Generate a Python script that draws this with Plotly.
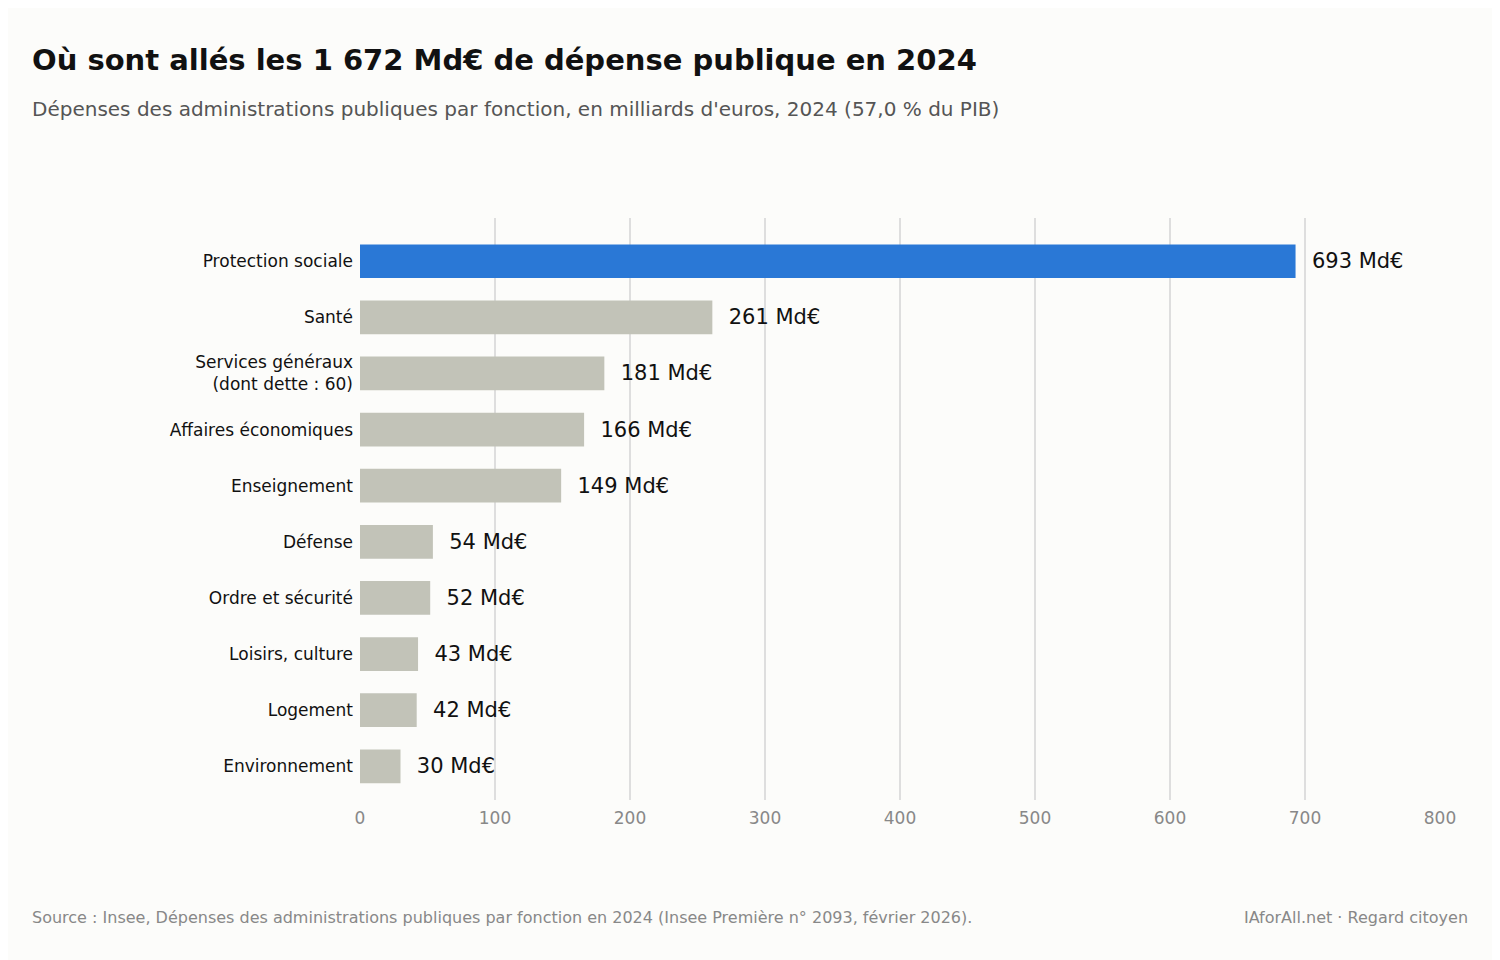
import plotly.graph_objects as go

categories = ["Protection sociale", "Santé", "Services généraux<br>(dont dette : 60)",
              "Affaires économiques", "Enseignement", "Défense", "Ordre et sécurité",
              "Loisirs, culture", "Logement", "Environnement"]
values = [693, 261, 181, 166, 149, 54, 52, 43, 42, 30]
labels = [f"  {v} Md€" for v in values]
colors = ["#2a78d6"] + ["#c2c3b8"] * 9

L, T, PW, PH = 352, 210, 1080, 582
def px(x): return (x - 8 - L) / PW
def py(y): return 1 - (y - 8 - T) / PH

fig = go.Figure(go.Bar(
    x=values, y=list(range(len(categories))), orientation="h",
    marker=dict(color=colors, line=dict(width=0)), width=0.6,
    text=labels, textposition="outside", cliponaxis=False,
    textfont=dict(size=21, color="#111"),
))
F = "DejaVu Sans"
fig.update_layout(
    width=1500, height=960, paper_bgcolor="#fcfcfa", plot_bgcolor="#fcfcfa",
    font=dict(family=F), showlegend=False,
    margin=dict(l=L, r=1500 - L - PW, t=T, b=960 - T - PH, pad=6),
    xaxis=dict(range=[0, 800], dtick=100, showgrid=True, gridcolor="#dedede", gridwidth=1.5,
               zeroline=False, tickfont=dict(size=17, color="#888"), ticks="", showline=False),
    yaxis=dict(range=[9.6, -0.77], tickvals=list(range(len(categories))), ticktext=categories,
               tickfont=dict(size=17, color="#111"), ticks="", showgrid=False, zeroline=False),
    annotations=[
        dict(text="<b>Où sont allés les 1 672 Md€ de dépense publique en 2024</b>", x=px(30), y=py(60),
             font=dict(size=29, color="#111"), xanchor="left"),
        dict(text="Dépenses des administrations publiques par fonction, en milliards d'euros, 2024 (57,0 % du PIB)",
             x=px(30), y=py(109), font=dict(size=20, color="#555"), xanchor="left"),
        dict(text="Source : Insee, Dépenses des administrations publiques par fonction en 2024 (Insee Première n° 2093, février 2026).",
             x=px(30), y=py(917), font=dict(size=16, color="#888"), xanchor="left"),
        dict(text="IAforAll.net · Regard citoyen", x=px(1470), y=py(917),
             font=dict(size=16, color="#888"), xanchor="right"),
    ],
)
fig.update_annotations(xref="paper", yref="paper", showarrow=False, yanchor="middle")
fig.write_html("out.html")
